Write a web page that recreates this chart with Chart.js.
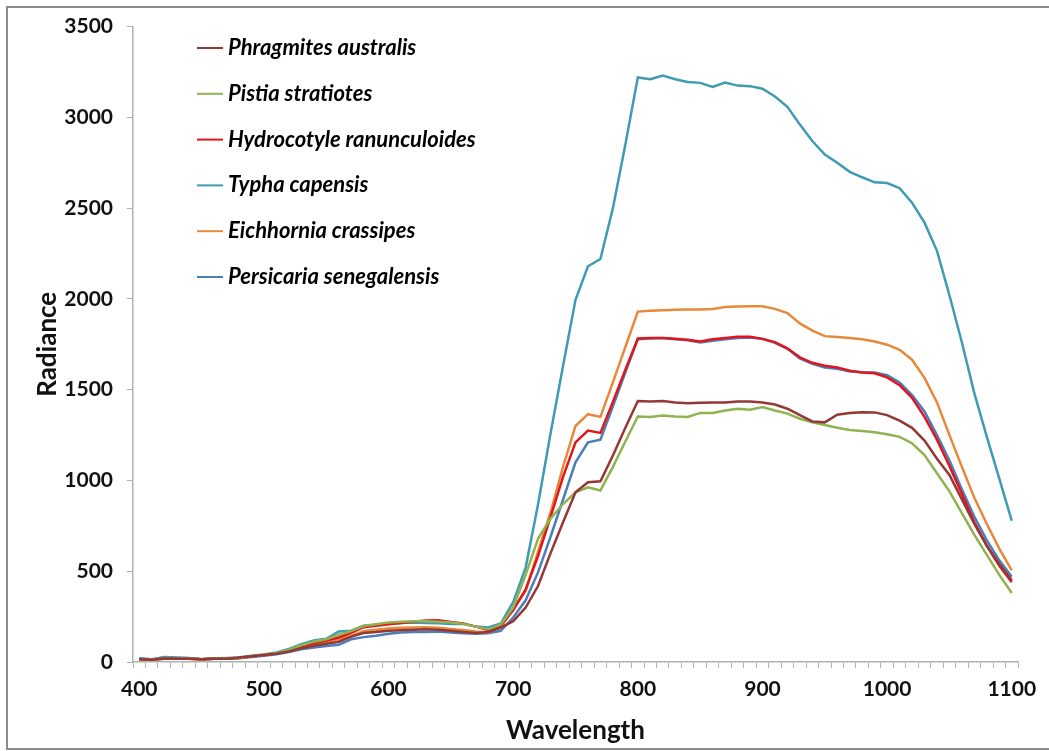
<!DOCTYPE html>
<html>
<head>
<meta charset="utf-8">
<script src="https://cdn.jsdelivr.net/npm/chart.js@4/dist/chart.umd.min.js"></script>
<style>
  html, body { margin: 0; padding: 0; background: #fff; }
  #wrap { position: absolute; left: 0; top: 0; width: 1049px; height: 751px; }
  #frame { position: absolute; left: 6px; top: 6px; width: 1060px; height: 740px;
           border-left: 2px solid #8c8c8c; border-top: 2px solid #8c8c8c; border-bottom: 2px solid #8c8c8c; }
  canvas { position: absolute; left: 0; top: 0; }
</style>
</head>
<body>
<div id="wrap">
  <div id="frame"></div>
  <canvas id="c" width="1049" height="751"></canvas>
</div>
<script>
// Wavelengths 400..1100 nm, step 10
const wavelengths = [400,410,420,430,440,450,460,470,480,490,500,510,520,530,540,550,560,570,580,590,600,610,620,630,640,650,660,670,680,690,700,710,720,730,740,750,760,770,780,790,800,810,820,830,840,850,860,870,880,890,900,910,920,930,940,950,960,970,980,990,1000,1010,1020,1030,1040,1050,1060,1070,1080,1090,1100];

const phragmites = [15,12,18,18,18,15,18,18,25,32,38,45,58,75,90,100,112,140,160,165,172,175,178,180,178,172,165,160,165,190,
  225,300,420,600,770,935,990,995,1137,1290,1438,
  1435,1438,1430,1425,1428,1430,1430,1435,1435,1430,1418,1395,1360,1325,1320,1362,1372,1376,1375,1360,1330,1290,1220,1120,1030,895,760,640,540,450];

const pistia = [15,12,18,18,18,15,18,20,22,32,40,50,68,92,112,125,150,170,198,208,218,222,225,225,222,218,210,195,180,205,
  300,480,680,790,870,935,962,945,1075,1215,1352,
  1350,1358,1352,1350,1372,1372,1385,1395,1390,1405,1385,1368,1340,1320,1305,1290,1278,1272,1265,1255,1240,1205,1140,1040,940,820,700,590,480,380];

const hydrocotyle = [15,12,20,18,18,15,18,18,22,30,38,48,62,85,105,118,135,160,192,200,208,215,222,228,230,220,212,195,175,200,
  285,400,585,800,1020,1210,1275,1262,1433,1610,1782,
  1785,1785,1780,1775,1765,1778,1785,1792,1792,1780,1762,1728,1678,1648,1632,1622,1605,1595,1590,1568,1525,1455,1350,1225,1080,925,770,640,530,440];

const typha = [18,12,28,25,22,15,20,22,25,35,42,52,72,98,118,128,168,172,200,205,212,215,218,215,213,210,210,195,190,212,
  330,520,870,1260,1630,1995,2180,2220,2500,2850,3220,
  3210,3230,3210,3195,3190,3168,3192,3175,3172,3158,3115,3058,2960,2870,2795,2750,2700,2670,2642,2638,2610,2530,2420,2265,2020,1760,1480,1240,1010,778];

const eichhornia = [15,12,20,20,18,15,18,18,22,30,38,48,62,82,98,110,126,145,170,178,185,188,190,192,188,182,176,168,162,192,
  295,390,610,825,1075,1300,1365,1350,1540,1735,1930,
  1935,1938,1940,1942,1942,1945,1955,1958,1960,1960,1945,1922,1865,1825,1795,1790,1785,1778,1765,1748,1720,1665,1565,1430,1250,1075,905,760,625,505];

const persicaria = [20,15,25,22,20,15,18,18,20,28,35,42,55,70,80,88,95,125,137,145,155,162,165,165,168,162,159,155,158,172,
  245,340,495,690,895,1100,1210,1225,1408,1595,1778,
  1782,1785,1778,1772,1760,1770,1778,1785,1788,1780,1758,1725,1672,1642,1622,1615,1600,1596,1595,1580,1540,1470,1380,1250,1110,950,800,670,560,470];

const seriesNames = ["Phragmites australis","Pistia stratiotes","Hydrocotyle ranunculoides","Typha capensis","Eichhornia crassipes","Persicaria senegalensis"];
const seriesColors = ["#953735","#8fb34f","#e3151c","#3f9bb3","#e8893a","#4a7ebb"];
const seriesData = [phragmites, pistia, hydrocotyle, typha, eichhornia, persicaria];

const yTicks = [0,500,1000,1500,2000,2500,3000,3500];

const FONT = "Lato, 'Open Sans', sans-serif";

const legendPlugin = {
  id: 'sideLegend',
  afterDraw(chart) {
    const ctx = chart.ctx;
    ctx.save();
    ctx.font = "italic bold 22px " + FONT;
    ctx.textBaseline = 'middle';
    ctx.textAlign = 'left';
    chart.data.datasets.forEach((ds, i) => {
      const y = 48 + i * 45.8;
      ctx.strokeStyle = ds.borderColor;
      ctx.lineWidth = 2;
      ctx.beginPath();
      ctx.moveTo(197, y);
      ctx.lineTo(223, y);
      ctx.stroke();
      ctx.fillStyle = '#000';
      ctx.fillText(ds.label, 228, y);
    });
    ctx.restore();
  }
};

new Chart(document.getElementById('c'), {
  type: 'line',
  data: {
    labels: wavelengths,
    datasets: seriesNames.map((n, i) => ({
      label: n,
      data: seriesData[i],
      borderColor: seriesColors[i],
      backgroundColor: seriesColors[i],
      borderWidth: 2.5,
      pointRadius: 0,
      tension: 0,
      fill: false
    }))
  },
  options: {
    responsive: false,
    animation: false,
    layout: { padding: { left: 32, top: 26, right: 31, bottom: 0 } },
    plugins: { legend: { display: false }, tooltip: { enabled: false } },
    scales: {
      x: {
        type: 'category',
        offset: true,
        grid: { offset: true, drawOnChartArea: false, drawTicks: true, tickLength: 6, color: '#b0b0b0' },
        border: { display: true, color: '#b0b0b0', width: 1.5 },
        ticks: {
          autoSkip: false, maxRotation: 0, color: '#111',
          font: { family: FONT, size: 21, weight: 'bold' }, padding: 9,
          callback: function(v, i) { const w = wavelengths[i]; return (w % 100 === 0) ? String(w) : ''; }
        },
        title: { display: true, text: 'Wavelength', color: '#111', font: { family: FONT, size: 26, weight: 'bold' }, padding: { top: 0, bottom: 5 } },
        afterFit(scale) { scale.height = 751 - 662; }
      },
      y: {
        min: 0, max: 3500,
        afterBuildTicks(scale) { scale.ticks = yTicks.map(v => ({ value: v })); },
        grid: { drawOnChartArea: false, drawTicks: true, tickLength: 6, color: '#b0b0b0' },
        border: { display: true, color: '#b0b0b0', width: 1.5 },
        ticks: { color: '#111', font: { family: FONT, size: 21, weight: 'bold' }, padding: 14,
                 callback: function(v) { return String(v); } },
        title: { display: true, text: 'Radiance', color: '#111', font: { family: FONT, size: 26, weight: 'bold' }, padding: { top: 0, bottom: 0 } },
        afterFit(scale) { scale.width = 101; }
      }
    }
  },
  plugins: [legendPlugin]
});
</script>
</body>
</html>
